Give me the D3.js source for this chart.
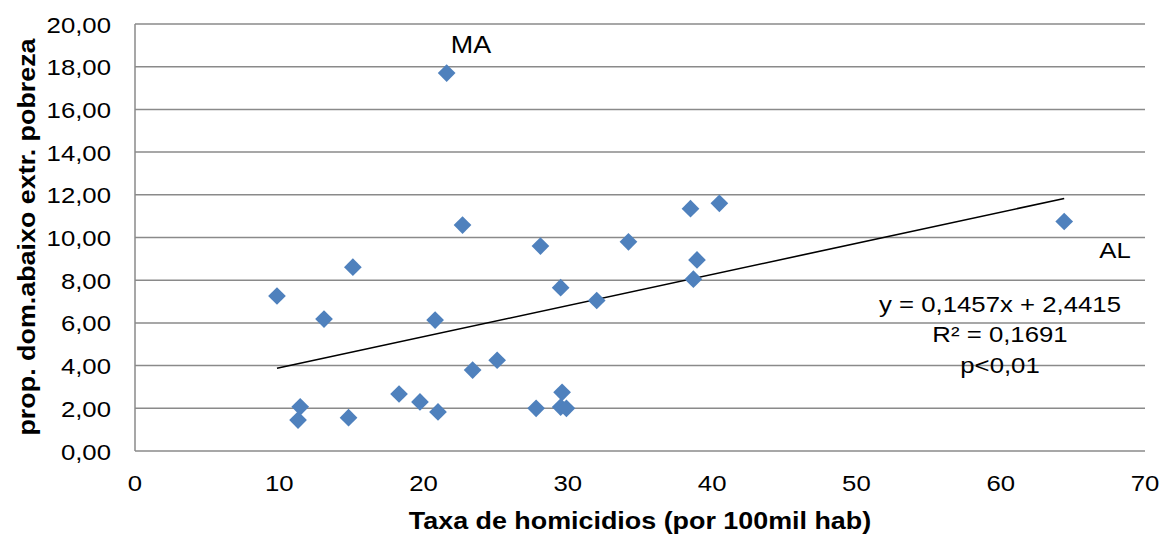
<!DOCTYPE html>
<html>
<head>
<meta charset="utf-8">
<script src="https://cdn.jsdelivr.net/npm/d3@7"></script>
<style>
  body { margin: 0; background: #fff; }
  svg { display: block; font-family: "Liberation Sans", Arial, sans-serif; }
</style>
</head>
<body>
<svg width="1162" height="534"></svg>
<script>
// values
const homicideRate = [9.84, 11.3, 11.45, 13.1, 14.8, 15.1, 18.3, 19.75, 20.8, 21.0, 21.6, 22.7, 23.4,
  25.1, 27.8, 28.1, 29.5, 29.6, 29.5, 29.9, 32.0, 34.2, 38.5, 38.95, 38.7, 40.5, 64.4];
const povertyShare = [7.26, 1.45, 2.07, 6.18, 1.56, 8.61, 2.67, 2.3, 6.13, 1.83, 17.7, 10.58, 3.79,
  4.25, 2.0, 9.6, 7.65, 2.75, 2.06, 2.0, 7.05, 9.8, 11.35, 8.95, 8.05, 11.6, 10.75];
const pointLabels = ["", "", "", "", "", "", "", "", "", "", "MA", "", "",
  "", "", "", "", "", "", "", "", "", "", "", "", "", "AL"];
const xTicks = [0, 10, 20, 30, 40, 50, 60, 70];
const yTicks = [0, 2, 4, 6, 8, 10, 12, 14, 16, 18, 20];
const trend = { slope: 0.1457, intercept: 2.4415 };
const statsLines = ["y = 0,1457x + 2,4415", "R² = 0,1691", "p<0,01"];

const svg = d3.select("svg");
const x = d3.scaleLinear().domain([0, 70]).range([135, 1145]);
const y = d3.scaleLinear().domain([0, 20]).range([451, 24]);
const br = d3.formatLocale({ decimal: ",", thousands: ".", grouping: [3], currency: ["", ""] });
const fmtY = br.format(".2f");
const sx = 1.12; // text in the picture is a bit wider than Arial

const grid = "#8a8a8a";

// horizontal grid lines
svg.append("g").selectAll("line").data(yTicks).enter().append("line")
  .attr("x1", x(0)).attr("x2", x(70))
  .attr("y1", d => y(d)).attr("y2", d => y(d))
  .attr("stroke", grid).attr("stroke-width", 1.5);

// left axis line
svg.append("line")
  .attr("x1", x(0)).attr("x2", x(0)).attr("y1", y(0)).attr("y2", y(20))
  .attr("stroke", grid).attr("stroke-width", 1.5);

// y tick labels
svg.append("g").selectAll("text").data(yTicks).enter().append("text")
  .attr("transform", d => `translate(111,${y(d) + 8.5}) scale(${sx},1)`)
  .attr("text-anchor", "end")
  .attr("font-size", 23).attr("fill", "#000")
  .text(d => fmtY(d));

// x tick labels
svg.append("g").selectAll("text").data(xTicks).enter().append("text")
  .attr("transform", d => `translate(${x(d)},491) scale(${sx},1)`)
  .attr("text-anchor", "middle")
  .attr("font-size", 23).attr("fill", "#000")
  .text(d => d);

// axis titles
svg.append("text")
  .attr("transform", `translate(640,529) scale(${sx},1)`)
  .attr("text-anchor", "middle")
  .attr("font-size", 24).attr("font-weight", "bold")
  .text("Taxa de homicidios (por 100mil hab)");

svg.append("text")
  .attr("transform", `translate(35,237) rotate(-90) scale(${sx},1)`)
  .attr("text-anchor", "middle")
  .attr("font-size", 24).attr("font-weight", "bold")
  .text("prop. dom.abaixo extr. pobreza");

// trend line
const x0 = d3.min(homicideRate), x1 = d3.max(homicideRate);
svg.append("line")
  .attr("x1", x(x0)).attr("y1", y(trend.slope * x0 + trend.intercept))
  .attr("x2", x(x1)).attr("y2", y(trend.slope * x1 + trend.intercept))
  .attr("stroke", "#000").attr("stroke-width", 1.6);

// points
const pts = homicideRate.map((v, i) => ({ x: v, y: povertyShare[i], label: pointLabels[i] }));
svg.append("g").selectAll("path").data(pts).enter().append("path")
  .attr("d", d3.symbol().type(d3.symbolDiamond2).size(200))
  .attr("transform", d => `translate(${x(d.x)},${y(d.y)})`)
  .attr("fill", "#4F81BD");

// state labels
svg.append("text")
  .attr("transform", `translate(471,53) scale(${sx},1)`)
  .attr("text-anchor", "middle").attr("font-size", 24)
  .text(pts.find(d => d.label === "MA").label);
svg.append("text")
  .attr("transform", `translate(1115,258) scale(${sx},1)`)
  .attr("text-anchor", "middle").attr("font-size", 23)
  .text(pts.find(d => d.label === "AL").label);

// regression stats
svg.append("g").selectAll("text").data(statsLines).enter().append("text")
  .attr("transform", (d, i) => `translate(1000,${311.5 + i * 30.7}) scale(${sx},1)`)
  .attr("text-anchor", "middle").attr("font-size", 23)
  .text(d => d);
</script>
</body>
</html>
